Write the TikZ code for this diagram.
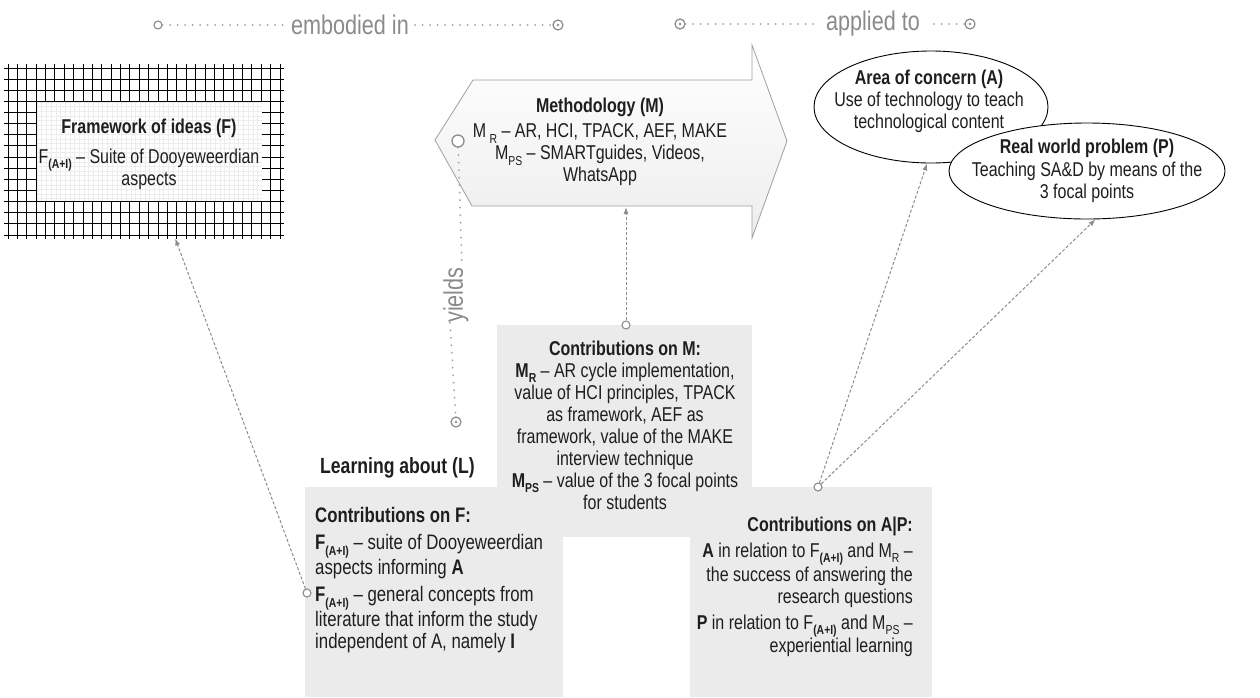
\documentclass[tikz,border=0pt]{standalone}
\usepackage{fontspec}
\setmainfont[FakeStretch=0.8]{Liberation Sans}
\usetikzlibrary{arrows.meta,shapes.geometric,calc}

% small lowered index used in the labels (M_R, F_(A+I), ...)
\newcommand\ix[1]{\raisebox{-0.28em}{\fontsize{13}{13}\selectfont #1}}

\definecolor{boxgray}{HTML}{EBEBEB}
\definecolor{linkgray}{HTML}{8C8C8C}
\definecolor{labelgray}{HTML}{8A8A8A}
\definecolor{inkblack}{HTML}{1E1E1E}

\begin{document}
\begin{tikzpicture}[x=1pt,y=-1pt,
  body/.style={font=\fontsize{20}{22}\selectfont, text=inkblack, inner sep=0pt},
  heading/.style={font=\bfseries\fontsize{20}{22}\selectfont, text=inkblack, inner sep=0pt},
  linklabel/.style={font=\fontsize{27}{28}\selectfont, text=labelgray, inner sep=0pt},
  cbox/.style={fill=boxgray, draw=none, inner sep=0pt, anchor=north west},
  oval/.style={ellipse, draw=black, line width=0.9pt, fill=white, inner sep=0pt},
  dotline/.style={draw=labelgray!80, line width=2pt, line cap=round, dash pattern=on 0pt off 7.5pt},
  dashlink/.style={draw=linkgray, line width=1pt, dash pattern=on 3pt off 2pt,
                   -{Latex[length=7pt,width=5pt]}},
  opendot/.style={circle, draw=linkgray, line width=1.1pt, fill=white, minimum size=8pt, inner sep=0pt},
  bigdot/.style={circle, draw=linkgray, line width=1.3pt, fill=white, minimum size=12pt, inner sep=0pt},
  target/.style={circle, draw=labelgray, line width=1.2pt, fill=white, minimum size=10pt, inner sep=0pt,
                 path picture={\fill[labelgray] (path picture bounding box.center) circle (1.4pt);}},
  gridline/.style={draw=black, line width=0.9pt},
]
\useasboundingbox (0,0) rectangle (1260,697);

% ---------- framework of ideas: hatched grid frame ----------
\foreach \k in {0,...,29} {
  \draw[gridline] ({8+\k*9.38},64) -- ({8+\k*9.38},239);
}
\foreach \k in {0,...,15} {
  \draw[gridline] (4,{68+\k*11.13}) -- (284,{68+\k*11.13});
}
\fill[white] (37,102) rectangle (262,201);
\foreach \k in {0,...,47} {
  \draw[black!7, line width=0.4pt] ({37+\k*4.69},102) -- ({37+\k*4.69},201);
}
\foreach \k in {0,...,21} {
  \draw[black!7, line width=0.4pt] (37,{102+\k*4.6}) -- (262,{102+\k*4.6});
}
\node[inner sep=0pt, minimum width=272pt, minimum height=167pt, anchor=north west] (F) at (8,68) {};
\node[heading] (Ftitle) at (149,128) {Framework of ideas (F)};
\node[body, align=center] (Ftext) at (149,169)
  {F\ix{\textbf{(A+I)}} – Suite of Dooyeweerdian\\aspects};

% ---------- methodology block arrow ----------
\path[draw=gray!75, line width=0.8pt, top color=white, bottom color=gray!14]
  (473,80) -- (752,80) -- (752,45) -- (787,141) -- (752,238) -- (752,206)
  -- (472,206) -- (435,140) -- cycle;
\coordinate (Mbot) at (626,207);
\node[heading] (Mtitle) at (600,107) {Methodology (M)};
\node[body, align=center] (Mtext) at (600,155)
  {M\,\ix{R} – AR, HCI, TPACK, AEF, MAKE\\
   M\ix{PS} – SMARTguides, Videos,\\
   WhatsApp};
\node[bigdot] (Mn) at (458,141) {};

% ---------- area of concern and real world problem ----------
\node[oval, minimum width=234pt, minimum height=112pt] (A) at (931,107) {};
\node[heading] (Atitle) at (929,79) {Area of concern (A)};
\node[body, align=center] (Atext) at (929,112)
  {Use of technology to teach\\technological content};
\node[oval, minimum width=276pt, minimum height=96pt] (P) at (1087,171) {};
\node[heading] (Ptitle) at (1087,148) {Real world problem (P)};
\node[body, align=center] (Ptext) at (1087,182)
  {Teaching SA\&D by means of the\\3 focal points};

% ---------- top link labels ----------
\node[opendot] (e1) at (158,25) {};
\node[linklabel] (emb) at (350,25) {embodied in};
\node[target] (e2) at (558,25) {};
\path[dotline] (e1) -- ([xshift=-6pt]emb.west);
\path[dotline] ([xshift=6pt]emb.east) -- (e2);

\node[target] (a1) at (680,24) {};
\node[linklabel] (app) at (873,24) {applied to};
\node[target] (a2) at (970,24) {};
\path[dotline] (a1) -- ([xshift=-6pt]app.west);
\path[dotline] ([xshift=14pt]app.east) -- (a2);

% ---------- yields ----------
\node[target] (Yc) at (456,422) {};
\node[linklabel, rotate=90] (yl) at (456,295) {yields};
\path[dotline] (Mn) -- ([xshift=6pt]yl.east);
\path[dotline] ([xshift=-6pt]yl.west) -- (Yc);

% ---------- contribution boxes ----------
\node[cbox, minimum width=258pt, minimum height=210pt] (Lbox) at (305,487) {};
\node[cbox, minimum width=242pt, minimum height=210pt] (APbox) at (690,487) {};
\node[cbox, minimum width=255pt, minimum height=212pt] (Mbox) at (497,325) {};

\node[font=\bfseries\fontsize{22}{24}\selectfont, text=inkblack, inner sep=0pt, anchor=west]
  (Ltitle) at (320,468) {Learning about (L)};

\node[body, align=center] (Mctext) at (625,425)
  {\textbf{Contributions on M:}\\
   \textbf{M\ix{R}} – AR cycle implementation,\\
   value of HCI principles, TPACK\\
   as framework, AEF as\\
   framework, value of the MAKE\\
   interview technique\\
   \textbf{M\ix{PS}} – value of the 3 focal points\\
   for students};

\node[body, align=left, anchor=west, font=\fontsize{21}{22}\selectfont] (Lctext) at (315,580)
  {\textbf{Contributions on F:}\\[5pt]
   \textbf{F\ix{(A+I)}} – suite of Dooyeweerdian\\
   aspects informing \textbf{A}\\[5pt]
   \textbf{F\ix{(A+I)}} – general concepts from\\
   literature that inform the study\\
   independent of A, namely \textbf{I}};

\node[body, align=right, anchor=east] (APtext) at (913,587)
  {\textbf{Contributions on A|P:}\\[4pt]
   \textbf{A} in relation to F\ix{\textbf{(A+I)}} and M\ix{R} –\\
   the success of answering the\\
   research questions\\[4pt]
   \textbf{P} in relation to F\ix{\textbf{(A+I)}} and M\ix{PS} –\\
   experiential learning};

% ---------- connectors ----------
\node[opendot] (Mc) at (626,325) {};
\node[opendot] (Lc) at (307,593) {};
\node[opendot] (APc) at (818,487) {};

\draw[dashlink] (Mc) -- (Mbot);
\draw[dashlink] (Lc) -- ([xshift=31pt,yshift=-3pt]F.south);
\draw[dashlink] (APc) -- (A.266);
\draw[dashlink] (APc) -- (P.280);
\end{tikzpicture}
\end{document}
